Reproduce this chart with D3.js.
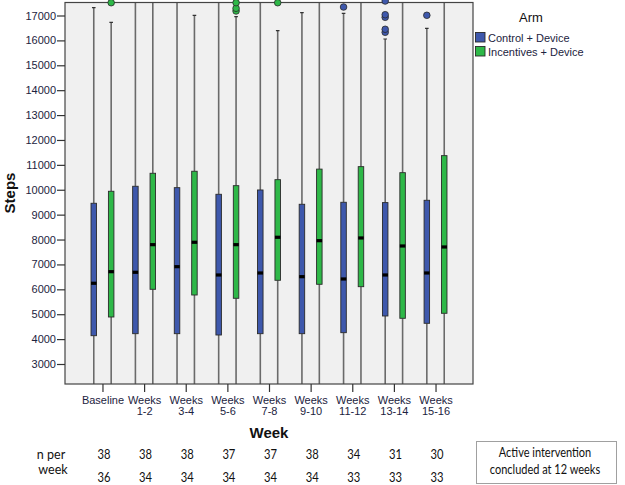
<!DOCTYPE html>
<html>
<head>
<meta charset="utf-8">
<script src="https://cdn.jsdelivr.net/npm/d3@7"></script>
<style>
  html, body { margin: 0; padding: 0; background: #ffffff; }
  svg { display: block; }
</style>
</head>
<body>
<div id="chart"></div>
<script>
// ---------- data ----------
const categories = ["Baseline", "Weeks 1-2", "Weeks 3-4", "Weeks 5-6", "Weeks 7-8", "Weeks 9-10", "Weeks 11-12", "Weeks 13-14", "Weeks 15-16"];
const seriesNames = ["Control + Device", "Incentives + Device"];
const yTicks = [3000, 4000, 5000, 6000, 7000, 8000, 9000, 10000, 11000, 12000, 13000, 14000, 15000, 16000, 17000];

const controlMin    = [1500, 1500, 1500, 1500, 1500, 1500, 1500, 1500, 1500];
const controlQ1     = [4137, 4218, 4218, 4165, 4218, 4218, 4258, 4929, 4635];
const controlMedian = [6243, 6684, 6910, 6576, 6656, 6508, 6415, 6576, 6656];
const controlQ3     = [9457, 10140, 10084, 9818, 9991, 9417, 9497, 9484, 9577];
const controlMax    = [17313, 18500, 18500, 18500, 18500, 17112, 17088, 16056, 16486];
const controlOutliers = [[], [], [], [], [], [], [17341], [16325, 16446, 16928, 17032, 17582], [17008]];

const incentiveMin    = [1500, 1500, 1500, 1500, 1500, 1500, 1500, 1500, 1500];
const incentiveQ1     = [4888, 6001, 5772, 5640, 6363, 6202, 6106, 4836, 5037];
const incentiveMedian = [6709, 7794, 7890, 7794, 8091, 7954, 8063, 7741, 7701];
const incentiveQ3     = [9939, 10662, 10743, 10164, 10405, 10829, 10928, 10686, 11370];
const incentiveMax    = [16727, 17530, 17008, 16952, 16390, 18500, 18500, 18500, 18500];
const incentiveOutliers = [[17514], [], [], [17181, 17289, 17514], [17514], [], [], [], []];

const nControl   = [38, 38, 38, 37, 37, 38, 34, 31, 30];
const nIncentive = [36, 34, 34, 34, 34, 34, 33, 33, 33];

// ---------- layout ----------
const W = 625, H = 485;
const plot = { left: 65, right: 473, top: 2.5, bottom: 384 };
const colors = ["#3E58AC", "#2EB848"];
const textColor = "#1c2340";
const font = "'Liberation Sans', Arial, sans-serif";
const tableFont = "Lato, 'Open Sans', sans-serif";

const svg = d3.select("#chart").append("svg")
  .attr("width", W).attr("height", H)
  .style("font-family", font);

const x = d3.scalePoint().domain(categories).range([plot.left, plot.right]).padding(0.9);
const y = d3.scaleLinear().domain([3000, 17000]).range([364, 15.5]);
const offsets = [-8.7, 8.7];
const boxW = 5.5;

// plot background
svg.append("rect")
  .attr("x", plot.left).attr("y", plot.top)
  .attr("width", plot.right - plot.left).attr("height", plot.bottom - plot.top)
  .attr("fill", "#f0f0f0");

svg.append("defs").append("clipPath").attr("id", "clip")
  .append("rect")
  .attr("x", plot.left).attr("y", plot.top)
  .attr("width", plot.right - plot.left).attr("height", plot.bottom - plot.top);

const series = [
  { name: seriesNames[0], min: controlMin, q1: controlQ1, med: controlMedian, q3: controlQ3, max: controlMax, out: controlOutliers },
  { name: seriesNames[1], min: incentiveMin, q1: incentiveQ1, med: incentiveMedian, q3: incentiveQ3, max: incentiveMax, out: incentiveOutliers }
];

const gPlot = svg.append("g").attr("clip-path", "url(#clip)");

series.forEach((s, si) => {
  const data = categories.map((c, i) => ({
    c, min: s.min[i], q1: s.q1[i], med: s.med[i], q3: s.q3[i], max: s.max[i], out: s.out[i]
  }));
  const cx = d => x(d.c) + offsets[si];
  const g = gPlot.append("g");
  g.selectAll("line.whisk-up").data(data).join("line")
    .attr("x1", cx).attr("x2", cx)
    .attr("y1", d => y(d.q3)).attr("y2", d => y(d.max))
    .attr("stroke", "#6a6a6a").attr("stroke-width", 1.6);
  g.selectAll("line.whisk-down").data(data).join("line")
    .attr("x1", cx).attr("x2", cx)
    .attr("y1", d => y(d.q1)).attr("y2", d => y(d.min))
    .attr("stroke", "#6a6a6a").attr("stroke-width", 1.6);
  g.selectAll("line.cap").data(data).join("line")
    .attr("x1", d => cx(d) - 1.8).attr("x2", d => cx(d) + 1.8)
    .attr("y1", d => y(d.max)).attr("y2", d => y(d.max))
    .attr("stroke", "#333").attr("stroke-width", 1.2);
  g.selectAll("rect.box").data(data).join("rect")
    .attr("x", d => cx(d) - boxW / 2).attr("width", boxW)
    .attr("y", d => y(d.q3)).attr("height", d => y(d.q1) - y(d.q3))
    .attr("fill", colors[si]).attr("stroke", "#2a2a2a").attr("stroke-width", 0.9);
  g.selectAll("rect.med").data(data).join("rect")
    .attr("x", d => cx(d) - boxW / 2).attr("width", boxW)
    .attr("y", d => y(d.med) - 1.6).attr("height", 3.2)
    .attr("fill", "#000");
});

// frame
svg.append("rect")
  .attr("x", plot.left).attr("y", plot.top)
  .attr("width", plot.right - plot.left).attr("height", plot.bottom - plot.top)
  .attr("fill", "none").attr("stroke", "#444").attr("stroke-width", 1.2);

// outliers (not clipped)
series.forEach((s, si) => {
  const pts = [];
  categories.forEach((c, i) => s.out[i].forEach(v => pts.push({ c, v })));
  svg.append("g").selectAll("circle").data(pts).join("circle")
    .attr("cx", d => x(d.c) + offsets[si])
    .attr("cy", d => y(d.v))
    .attr("r", 3.3)
    .attr("fill", colors[si]).attr("stroke", "#2a2a2a").attr("stroke-width", 0.8);
});

// y axis
const yAxis = svg.append("g")
  .attr("transform", `translate(${plot.left},0)`)
  .call(d3.axisLeft(y).tickValues(yTicks).tickSize(8).tickPadding(1).tickFormat(d3.format("d")));
yAxis.select(".domain").remove();
yAxis.selectAll(".tick line").attr("stroke", "#333").attr("stroke-width", 1.2);
yAxis.selectAll(".tick text").attr("fill", textColor).style("font-size", "11px").style("font-family", font);

// x axis
const xAxis = svg.append("g")
  .attr("transform", `translate(0,${plot.bottom})`)
  .call(d3.axisBottom(x).tickSize(8).tickPadding(3).tickFormat(""));
xAxis.select(".domain").remove();
xAxis.selectAll(".tick line").attr("stroke", "#333").attr("stroke-width", 1.2);
xAxis.selectAll(".tick").each(function (d) {
  const parts = d.split(" ");
  const t = d3.select(this).append("text")
    .attr("fill", textColor).attr("text-anchor", "middle")
    .style("font-size", "11px").style("font-family", font);
  parts.forEach((p, k) => {
    t.append("tspan").attr("x", 0).attr("y", 19.5 + k * 11).text(p);
  });
});

// axis titles
svg.append("text")
  .attr("transform", "translate(15,193) rotate(-90)")
  .attr("text-anchor", "middle")
  .style("font-size", "15px").style("font-weight", "bold")
  .attr("fill", "#111").text("Steps");
svg.append("text")
  .attr("x", (plot.left + plot.right) / 2).attr("y", 438)
  .attr("text-anchor", "middle")
  .style("font-size", "15px").style("font-weight", "bold")
  .attr("fill", "#111").text("Week");

// legend
const lg = svg.append("g");
lg.append("text").attr("x", 531).attr("y", 22).attr("text-anchor", "middle")
  .style("font-size", "13px").attr("fill", "#111").text("Arm");
seriesNames.forEach((n, i) => {
  lg.append("rect").attr("x", 475.5).attr("y", 32.5 + i * 14).attr("width", 9.5).attr("height", 9.5)
    .attr("fill", colors[i]).attr("stroke", "#2a2a2a").attr("stroke-width", 0.9);
  lg.append("text").attr("x", 488).attr("y", 41.5 + i * 14)
    .style("font-size", "11px").attr("fill", textColor).text(n);
});

// n per week table
const tg = svg.append("g").style("font-family", tableFont).attr("fill", "#111");
tg.append("text").attr("transform", "translate(51,458.5) scale(0.93,1)").attr("text-anchor", "middle")
  .style("font-size", "13.5px").text("n per");
tg.append("text").attr("transform", "translate(53,473.5) scale(0.93,1)").attr("text-anchor", "middle")
  .style("font-size", "13.5px").text("week");
[nControl, nIncentive].forEach((arr, r) => {
  tg.selectAll(null).data(categories).join("text")
    .attr("transform", d => `translate(${x(d) + 1.5},${459 + r * 22.5}) scale(0.8,1)`)
    .attr("text-anchor", "middle")
    .style("font-size", "14px")
    .text((d, i) => arr[i]);
});

// note box
svg.append("rect").attr("x", 476.5).attr("y", 441.5).attr("width", 140).attr("height", 42)
  .attr("fill", "#fff").attr("stroke", "#a0a0a0").attr("stroke-width", 1);
const note = svg.append("text").attr("text-anchor", "middle")
  .attr("transform", "translate(545,0) scale(0.88,1)")
  .style("font-family", tableFont).style("font-size", "12.5px").attr("fill", "#111");
note.append("tspan").attr("x", 0).attr("y", 457.5).text("Active intervention");
note.append("tspan").attr("x", 0).attr("y", 474.5).text("concluded at 12 weeks");
</script>
</body>
</html>
